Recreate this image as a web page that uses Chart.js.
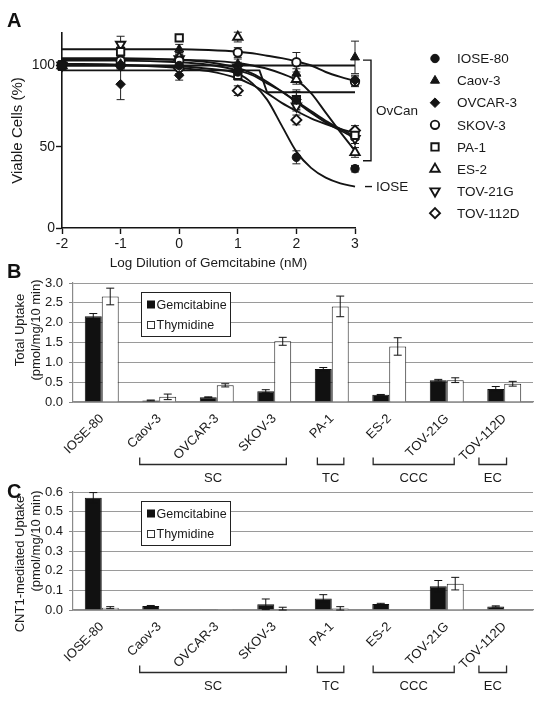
<!DOCTYPE html>
<html><head><meta charset="utf-8">
<script src="https://cdn.jsdelivr.net/npm/chart.js@4.4.1/dist/chart.umd.min.js"></script>
<style>
html,body{margin:0;padding:0;background:#fff}
#wrap{position:relative;width:542px;height:702px;overflow:hidden;font-family:"Liberation Sans",Arial,sans-serif}
canvas{position:absolute;left:0}
.lbl{position:absolute;left:7px;font-weight:bold;font-size:20px;line-height:20px;color:#111}
</style></head><body><div id="wrap">
<canvas id="chartA" width="542" height="280" style="top:0px;width:542px;height:280px"></canvas>
<canvas id="chartB" width="542" height="240" style="top:250px;width:542px;height:240px"></canvas>
<canvas id="chartC" width="542" height="252" style="top:450px;width:542px;height:252px"></canvas>
<div class="lbl" style="top:10px">A</div>
<div class="lbl" style="top:261px">B</div>
<div class="lbl" style="top:481px">C</div>
</div>
<script>
Chart.defaults.font.family = '"Liberation Sans", Arial, Helvetica, sans-serif';
Chart.defaults.font.size = 13;
Chart.defaults.color = '#1a1a1a';
Chart.defaults.animation = false;
const FONT = '"Liberation Sans", Arial, sans-serif';

// ---------- Panel A data ----------
const doseLog = [-2, -1, 0, 1, 2, 3];
const doseTicks = [-2, -1, 0, 1, 2, 3];
const viableTicks = [0, 50, 100];
const viableIOSE80  = [100, 100, 100, 96, 43.5, 36.5];
const viableCaov3   = [100, 101, 110, 101, 95, 105];
const viableOVCAR3  = [100, 88.5, 94, 97, 79, 91];
const viableSKOV3   = [100, 103, 103, 108, 102, 90];
const viablePA1     = [100, 108.5, 117, 94, 79, 57];
const viableES2     = [100, 102, 105, 117.5, 91.5, 46.5];
const viableTOV21G  = [100, 113, 104, 99, 75, 55];
const viableTOV112D = [100, 100, 98, 84.5, 66.5, 60];
const errIOSE80  = [3, 3, 3, 4, 4, 2];
const errCaov3   = [2, 3, 3, 3, 3, 10];
const errOVCAR3  = [3, 9.5, 3, 3, 5, 3];
const errSKOV3   = [2, 3, 3, 3, 6, 3];
const errPA1     = [2, 3, 2, 3, 6, 3];
const errES2     = [2, 3, 3, 3, 3, 3];
const errTOV21G  = [2, 5, 3, 3, 3, 3];
const errTOV112D = [2, 3, 3, 3, 3, 3];
// fitted curves
const fitLog = [-2, -1, 0, 0.5, 1, 1.25, 1.5, 1.75, 2, 2.25, 2.5, 2.75, 3];
const fitIOSE80  = [100, 100, 99.5, 98, 95, 89, 79, 63, 47, 37, 31, 27.5, 25.5];
const fitCaov3   = [100, 100, 100, 100, 100, 100, 100, 100, 100, 100, 100, 100, 100];
const fitSKOV3   = [110, 110, 110, 109.5, 108.5, 107.5, 106, 104.5, 102.5, 100, 96, 93, 90.5];
const fitPA1     = [103, 103, 102, 100.5, 97, 94, 89, 84, 78, 72, 66, 61, 56.5];
const fitES2     = [104, 104, 103.5, 103, 101.5, 100, 98, 95, 91, 83, 71, 59, 47.5];
const fitTOV21G  = [104.5, 104.5, 103.5, 102, 98.5, 95, 90, 84, 77.5, 71, 65, 60, 55.5];
const fitTOV112D = [101, 100.5, 98.5, 96.5, 92, 88, 83, 77, 72, 67.5, 64, 61, 58.5];
const fitOVCAR3Log = [-2, 1.37, 1.5, 3];
const fitOVCAR3    = [97, 97, 83.5, 83.5];
const ovcanRange = [103.3, 41.4];

// ---------- Panel B / C data ----------
const cellLines = ['IOSE-80', 'Caov-3', 'OVCAR-3', 'SKOV-3', 'PA-1', 'ES-2', 'TOV-21G', 'TOV-112D'];
const totalGem    = [2.16, 0.04, 0.12, 0.27, 0.83, 0.18, 0.55, 0.33];
const totalGemErr = [0.07, 0.01, 0.01, 0.04, 0.04, 0.01, 0.02, 0.06];
const totalThy    = [2.66, 0.13, 0.42, 1.53, 2.41, 1.40, 0.55, 0.46];
const totalThyErr = [0.21, 0.07, 0.04, 0.10, 0.26, 0.22, 0.06, 0.06];
const totalTicks  = [0, 0.5, 1.0, 1.5, 2.0, 2.5, 3.0];
const cntGem    = [0.571, 0.020, 0.001, 0.029, 0.059, 0.031, 0.121, 0.018];
const cntGemErr = [0.026, 0.003, 0, 0.027, 0.019, 0.003, 0.029, 0.003];
const cntThy    = [0.012, 0.002, 0.001, 0.002, 0.008, 0, 0.134, 0.002];
const cntThyErr = [0.005, 0, 0, 0.012, 0.009, 0, 0.032, 0];
const cntTicks  = [0, 0.1, 0.2, 0.3, 0.4, 0.5, 0.6];
const groupNames = ['SC', 'TC', 'CCC', 'EC'];
const groupSpans = [[0.66, 3.21], [3.75, 4.21], [4.72, 6.13], [6.56, 7.04]];

// ---------- Panel A ----------
const seriesA = [
  {name:'IOSE-80',  y:viableIOSE80,  e:errIOSE80,  fx:fitLog, fy:fitIOSE80,  style:'circle',   r:4.2, filled:true},
  {name:'Caov-3',   y:viableCaov3,   e:errCaov3,   fx:fitLog, fy:fitCaov3,   style:'triangle', r:5.2, filled:true},
  {name:'OVCAR-3',  y:viableOVCAR3,  e:errOVCAR3,  fx:fitOVCAR3Log, fy:fitOVCAR3, style:'rectRot', r:4.8, filled:true, step:true},
  {name:'SKOV-3',   y:viableSKOV3,   e:errSKOV3,   fx:fitLog, fy:fitSKOV3,   style:'circle',   r:4.2, filled:false},
  {name:'PA-1',     y:viablePA1,     e:errPA1,     fx:fitLog, fy:fitPA1,     style:'rect',     r:5.2, filled:false},
  {name:'ES-2',     y:viableES2,     e:errES2,     fx:fitLog, fy:fitES2,     style:'triangle', r:5.4, filled:false},
  {name:'TOV-21G',  y:viableTOV21G,  e:errTOV21G,  fx:fitLog, fy:fitTOV21G,  style:'triangle', r:5.4, filled:false, rot:180},
  {name:'TOV-112D', y:viableTOV112D, e:errTOV112D, fx:fitLog, fy:fitTOV112D, style:'rectRot',  r:5.0, filled:false}
];
const INK = '#141414';
const markerSets = seriesA.map(s => ({
  label: s.name,
  data: doseLog.map((x, i) => ({x, y: s.y[i]})),
  errors: s.e,
  showLine: false,
  clip: false,
  pointStyle: s.style,
  pointRadius: s.r,
  pointRotation: s.rot || 0,
  pointBackgroundColor: s.filled ? INK : '#fff',
  pointBorderColor: INK,
  pointBorderWidth: s.filled ? 1 : 1.9
}));
const curveSets = seriesA.map(s => ({
  type: 'line',
  label: s.name + ' fit',
  data: s.fx.map((x, i) => ({x, y: s.fy[i]})),
  showLine: true, fill: false, clip: false,
  pointRadius: 0,
  borderColor: INK, borderWidth: 1.9,
  cubicInterpolationMode: s.step ? 'default' : 'monotone',
  tension: 0
}));

function drawMarker(ctx, s, x, y) {
  const r = s.r;
  ctx.save();
  ctx.fillStyle = s.filled ? INK : '#fff';
  ctx.strokeStyle = INK;
  ctx.lineWidth = s.filled ? 1 : 1.9;
  ctx.beginPath();
  if (s.style === 'circle') {
    ctx.arc(x, y, r, 0, Math.PI * 2);
  } else if (s.style === 'triangle') {
    let a = (s.rot || 0) * Math.PI / 180;
    ctx.moveTo(x + Math.sin(a) * r, y - Math.cos(a) * r);
    a += 2 * Math.PI / 3;
    ctx.lineTo(x + Math.sin(a) * r, y - Math.cos(a) * r);
    a += 2 * Math.PI / 3;
    ctx.lineTo(x + Math.sin(a) * r, y - Math.cos(a) * r);
    ctx.closePath();
  } else if (s.style === 'rect') {
    const h = Math.SQRT1_2 * r;
    ctx.rect(x - h, y - h, 2 * h, 2 * h);
  } else {
    ctx.moveTo(x - r, y); ctx.lineTo(x, y - r); ctx.lineTo(x + r, y); ctx.lineTo(x, y + r); ctx.closePath();
  }
  ctx.fill(); ctx.stroke();
  ctx.restore();
}

const errBarsA = {
  id: 'errBarsA',
  beforeDatasetsDraw(chart) {
    const {ctx, scales: {x, y}} = chart;
    ctx.save();
    ctx.strokeStyle = '#222'; ctx.lineWidth = 1;
    chart.data.datasets.forEach(ds => {
      if (!ds.errors) return;
      ds.data.forEach((p, i) => {
        const e = ds.errors[i]; if (!e) return;
        const px = x.getPixelForValue(p.x);
        const y1 = y.getPixelForValue(p.y + e), y2 = y.getPixelForValue(p.y - e);
        ctx.beginPath();
        ctx.moveTo(px, y1); ctx.lineTo(px, y2);
        ctx.moveTo(px - 4, y1); ctx.lineTo(px + 4, y1);
        ctx.moveTo(px - 4, y2); ctx.lineTo(px + 4, y2);
        ctx.stroke();
      });
    });
    ctx.restore();
  }
};
const annotA = {
  id: 'annotA',
  afterDraw(chart) {
    const {ctx, scales: {y}, chartArea} = chart;
    const bx = chartArea.right + 16;
    const yt = y.getPixelForValue(ovcanRange[0]), yb = y.getPixelForValue(ovcanRange[1]);
    ctx.save();
    ctx.strokeStyle = INK; ctx.lineWidth = 1.4;
    ctx.beginPath();
    ctx.moveTo(bx - 8, yt); ctx.lineTo(bx, yt); ctx.lineTo(bx, yb); ctx.lineTo(bx - 8, yb);
    ctx.stroke();
    ctx.fillStyle = '#1a1a1a';
    ctx.font = '13.5px ' + FONT;
    ctx.textBaseline = 'middle'; ctx.textAlign = 'left';
    ctx.fillText('OvCan', bx + 5, (yt + yb) / 2 + 1);
    const yi = y.getPixelForValue(fitIOSE80[fitIOSE80.length - 1]);
    ctx.beginPath(); ctx.moveTo(bx - 6, yi); ctx.lineTo(bx + 1, yi); ctx.stroke();
    ctx.fillText('IOSE', bx + 5, yi + 1);
    // legend
    seriesA.forEach((s, i) => {
      const ly = 58.5 + i * 22.1;
      drawMarker(ctx, s, 435, ly);
      ctx.fillStyle = '#1a1a1a';
      ctx.fillText(s.name, 457, ly + 1);
    });
    ctx.restore();
  }
};

new Chart(document.getElementById('chartA'), {
  type: 'scatter',
  data: {datasets: [...markerSets, ...curveSets]},
  options: {
    responsive: false,
    layout: {padding: {left: 0, top: 33, right: 187, bottom: 0}},
    plugins: {legend: {display: false}, tooltip: {enabled: false}},
    scales: {
      x: {
        type: 'linear', min: -2, max: 3,
        afterBuildTicks: s => { s.ticks = doseTicks.map(v => ({value: v})); },
        afterFit: s => { s.height = 52; },
        grid: {drawOnChartArea: false, tickLength: 6, color: INK, tickColor: INK, tickWidth: 1.4},
        border: {color: INK, width: 1.6},
        ticks: {padding: 2, color: '#1a1a1a', font: {size: 14}},
        title: {display: true, text: 'Log Dilution of Gemcitabine (nM)', color: '#1a1a1a', font: {size: 13.5}, padding: {top: 0, bottom: 8.5}}
      },
      y: {
        min: 0, max: 120,
        afterBuildTicks: s => { s.ticks = viableTicks.map(v => ({value: v})); },
        afterFit: s => { s.width = 62; },
        grid: {drawOnChartArea: false, tickLength: 6, color: INK, tickColor: INK, tickWidth: 1.4},
        border: {color: INK, width: 1.6},
        ticks: {padding: 1, color: '#1a1a1a', font: {size: 14}},
        title: {display: true, text: 'Viable Cells (%)', color: '#1a1a1a', font: {size: 15}, padding: {top: 9, bottom: 0}}
      }
    }
  },
  plugins: [errBarsA, annotA]
});

// ---------- Panels B & C ----------
const errBarsBar = {
  id: 'errBarsBar',
  afterDatasetsDraw(chart) {
    const {ctx, scales: {y}} = chart;
    ctx.save();
    ctx.strokeStyle = '#111'; ctx.lineWidth = 1;
    chart.data.datasets.forEach((ds, di) => {
      const meta = chart.getDatasetMeta(di);
      ds.data.forEach((v, i) => {
        const e = ds.errors[i]; if (!e) return;
        const px = meta.data[i].x;
        const y1 = y.getPixelForValue(v + e), y2 = y.getPixelForValue(Math.max(0, v - e));
        ctx.beginPath();
        ctx.moveTo(px, y1); ctx.lineTo(px, y2);
        ctx.moveTo(px - 4, y1); ctx.lineTo(px + 4, y1);
        ctx.moveTo(px - 4, y2); ctx.lineTo(px + 4, y2);
        ctx.stroke();
      });
    });
    ctx.restore();
  }
};
const groupsAndLegend = {
  id: 'groupsAndLegend',
  afterDraw(chart) {
    const {ctx, scales: {x}, chartArea} = chart;
    const p0 = x.getPixelForValue(0), cw = x.getPixelForValue(1) - p0;
    const ly = chartArea.bottom + 62.5;
    ctx.save();
    ctx.strokeStyle = '#2a2a2a'; ctx.lineWidth = 1.3;
    ctx.fillStyle = '#1a1a1a';
    ctx.font = '13px ' + FONT;
    ctx.textAlign = 'center'; ctx.textBaseline = 'middle';
    groupSpans.forEach((sp, i) => {
      const a = p0 + sp[0] * cw, b = p0 + sp[1] * cw;
      ctx.beginPath();
      ctx.moveTo(a, ly - 7); ctx.lineTo(a, ly); ctx.lineTo(b, ly); ctx.lineTo(b, ly - 7);
      ctx.stroke();
      ctx.fillText(groupNames[i], (a + b) / 2, ly + 14);
    });
    // y-axis title (two lines)
    const t = chart.options.yTitle;
    ctx.save();
    ctx.font = '13px ' + FONT;
    t.lines.forEach((line, i) => {
      ctx.save();
      ctx.translate(t.x[i], t.y[i]);
      ctx.rotate(-Math.PI / 2);
      ctx.fillText(line, 0, 0);
      ctx.restore();
    });
    ctx.restore();
    // legend box
    const bx = 141, by = chartArea.top + 9, bw = 89, bh = 44;
    ctx.lineWidth = 1; ctx.strokeStyle = '#222';
    ctx.fillStyle = '#fff';
    ctx.fillRect(bx, by, bw, bh);
    ctx.strokeRect(bx + 0.5, by + 0.5, bw, bh);
    ctx.font = '12.5px ' + FONT;
    const names = chart.data.datasets.map(d => d.label);
    [12.5, 33].forEach((dy, i) => {
      const cy = by + dy;
      ctx.fillStyle = i === 0 ? '#111' : '#fff';
      ctx.fillRect(bx + 6, cy - 4, 8, 8);
      if (i === 1) { ctx.strokeStyle = '#333'; ctx.strokeRect(bx + 6.5, cy - 3.5, 7, 7); }
      ctx.fillStyle = '#1a1a1a'; ctx.textAlign = 'left';
      ctx.fillText(names[i], bx + 15.5, cy + 1);
    });
    ctx.restore();
  }
};

function uptakeChart(id, gem, gemErr, thy, thyErr, ticks, yTitle, padTop, xHeight) {
  return new Chart(document.getElementById(id), {
    type: 'bar',
    data: {
      labels: cellLines,
      datasets: [
        {label: 'Gemcitabine', data: gem, errors: gemErr, backgroundColor: '#111', borderColor: '#111', borderWidth: 1,
         categoryPercentage: 0.59, barPercentage: 1.0},
        {label: 'Thymidine', data: thy, errors: thyErr, backgroundColor: '#fff', borderColor: '#222', borderWidth: 1,
         categoryPercentage: 0.59, barPercentage: 1.0}
      ]
    },
    options: {
      responsive: false,
      yTitle: yTitle,
      layout: {padding: {left: 0, top: padTop, right: 9, bottom: 0}},
      plugins: {legend: {display: false}, tooltip: {enabled: false}},
      scales: {
        x: {
          afterFit: s => { s.height = xHeight; },
          grid: {display: false},
          border: {display: true, color: '#8a8a8a', width: 1.2},
          ticks: {autoSkip: false, maxRotation: 45, minRotation: 45, padding: 1, color: '#1a1a1a', font: {size: 13}}
        },
        y: {
          min: ticks[0], max: ticks[ticks.length - 1],
          afterBuildTicks: s => { s.ticks = ticks.map(v => ({value: v})); },
          afterFit: s => { s.width = 73; },
          grid: {color: '#9a9a9a', lineWidth: 1, borderDash: [1, 2], tickLength: 4, tickColor: '#8a8a8a', tickBorderDash: []},
          border: {display: true, color: '#8a8a8a', width: 1.2},
          ticks: {padding: 6, color: '#1a1a1a', font: {size: 13}, callback: v => Number(v).toFixed(1)}
        }
      }
    },
    plugins: [errBarsBar, groupsAndLegend]
  });
}

uptakeChart('chartB', totalGem, totalGemErr, totalThy, totalThyErr, totalTicks,
  {lines: ['Total Uptake', '(pmol/mg/10 min)'], x: [20, 36], y: [80, 80]}, 33, 88);
uptakeChart('chartC', cntGem, cntGemErr, cntThy, cntThyErr, cntTicks,
  {lines: ['CNT1-mediated Uptake', '(pmol/mg/10 min)'], x: [20, 36], y: [114, 91]}, 42, 92);
</script>
</body></html>
